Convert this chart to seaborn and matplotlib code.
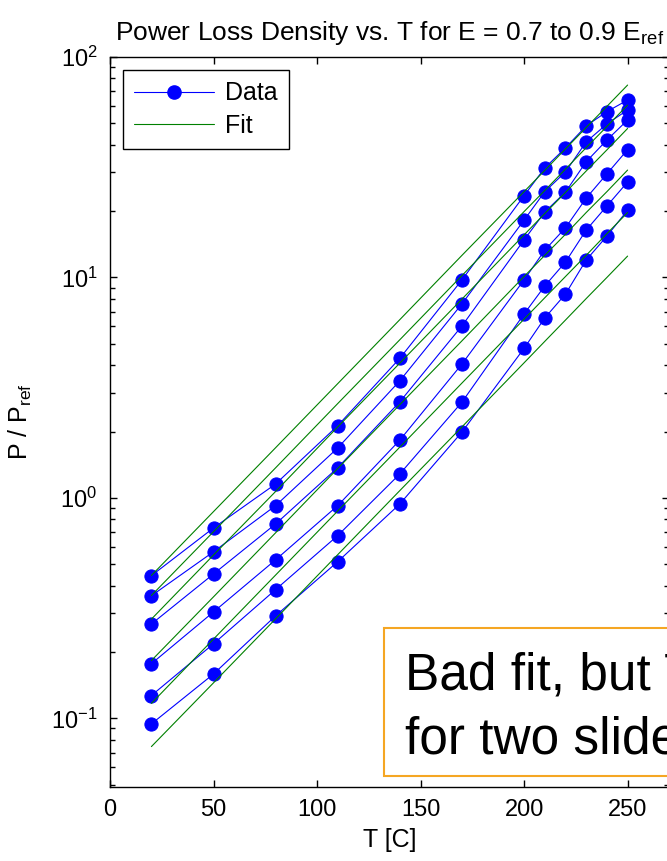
import pandas as pd
import seaborn as sns
import matplotlib.pyplot as plt
from matplotlib.lines import Line2D
from matplotlib.patches import Rectangle
from matplotlib.ticker import LogLocator, FixedLocator

# --- data ---
temps = [20, 50, 80, 110, 140, 170, 200, 210, 220, 230, 240, 250]

data_1 = [0.444, 0.731, 1.157, 2.128, 4.30, 9.75, 23.5, 31.4, 38.7, 48.7, 56.5, 63.8]
data_2 = [0.360, 0.570, 0.923, 1.686, 3.40, 7.59, 18.2, 24.5, 30.1, 41.2, 49.7, 57.5]
data_3 = [0.268, 0.452, 0.762, 1.372, 2.73, 6.03, 14.8, 19.8, 24.4, 33.5, 42.0, 51.8]
data_4 = [0.177, 0.304, 0.524, 0.923, 1.83, 4.05, 9.75, 13.3, 16.8, 22.9, 29.5, 38.0]
data_5 = [0.127, 0.218, 0.384, 0.675, 1.285, 2.72, 6.83, 9.15, 11.75, 16.4, 21.1, 27.1]
data_6 = [0.0944, 0.159, 0.292, 0.514, 0.939, 1.99, 4.77, 6.55, 8.41, 12.0, 15.4, 20.2]

fit_1 = [0.445, 0.867, 1.69, 3.30, 6.44, 12.6, 24.5, 30.6, 38.3, 47.9, 59.7, 74.6]
fit_2 = [0.361, 0.703, 1.37, 2.68, 5.22, 10.2, 19.9, 24.8, 31.0, 38.8, 48.4, 60.5]
fit_3 = [0.282, 0.551, 1.07, 2.10, 4.09, 7.98, 15.6, 19.5, 24.3, 30.4, 37.9, 47.4]
fit_4 = [0.183, 0.356, 0.695, 1.36, 2.65, 5.16, 10.1, 12.6, 15.7, 19.7, 24.5, 30.7]
fit_5 = [0.117, 0.229, 0.447, 0.873, 1.70, 3.32, 6.47, 8.09, 10.1, 12.6, 15.8, 19.7]
fit_6 = [0.0745, 0.145, 0.283, 0.553, 1.08, 2.10, 4.10, 5.13, 6.41, 8.02, 10.0, 12.5]

data_series = [data_1, data_2, data_3, data_4, data_5, data_6]
fit_series = [fit_1, fit_2, fit_3, fit_4, fit_5, fit_6]

x_ticks = [0, 50, 100, 150, 200, 250]

# long-form tables for seaborn
df_data = pd.DataFrame(
    [(i, t, p) for i, s in enumerate(data_series) for t, p in zip(temps, s)],
    columns=["series", "T", "P"],
)
df_fit = pd.DataFrame(
    [(i, t, p) for i, s in enumerate(fit_series) for t, p in zip(temps, s)],
    columns=["series", "T", "P"],
)

sns.set_theme(style="ticks")
plt.rcParams["font.family"] = ["Liberation Sans", "DejaVu Sans"]
plt.rcParams["mathtext.fontset"] = "custom"
plt.rcParams["mathtext.rm"] = "Liberation Sans"
plt.rcParams["mathtext.default"] = "regular"
plt.rcParams["axes.unicode_minus"] = False
for key in ["text.color", "axes.labelcolor", "xtick.color", "ytick.color",
            "xtick.labelcolor", "ytick.labelcolor"]:
    plt.rcParams[key] = "black"

BLUE = "#0000FF"
GREEN = "#008000"

fig = plt.figure(figsize=(6.67, 8.61), dpi=100)
ax = fig.add_axes([110 / 667, (861 - 786.7) / 861, 559 / 667, (786.7 - 57) / 861])

sns.lineplot(
    data=df_data, x="T", y="P", units="series", estimator=None,
    color=BLUE, linewidth=0.8, marker="o", markersize=9.5,
    markeredgecolor=BLUE, ax=ax, legend=False,
)
sns.lineplot(
    data=df_fit, x="T", y="P", units="series", estimator=None,
    color=GREEN, linewidth=0.8, ax=ax, legend=False,
)

ax.set_yscale("log")
ax.set_xlim(0, 270)
ax.set_ylim(0.049, 100)
ax.xaxis.set_major_locator(FixedLocator(x_ticks))
ax.yaxis.set_major_locator(LogLocator(base=10))
ax.yaxis.set_minor_locator(LogLocator(base=10, subs=range(2, 10)))

ax.tick_params(which="both", direction="in", top=True, right=True, color="black")
ax.tick_params(which="major", length=5, width=1, labelsize=17, pad=9)
ax.tick_params(which="minor", length=3.5, width=1)
for sp in ax.spines.values():
    sp.set_color("black")
    sp.set_linewidth(1.0)

ax.set_xlabel("T [C]", fontsize=18, labelpad=5)
ax.set_ylabel("P / P$_{ref}$", fontsize=18, labelpad=12)
ax.set_title("Power Loss Density vs. T for E = 0.7 to 0.9 E$_{ref}$",
             fontsize=19, pad=12)

handles = [
    Line2D([], [], color=BLUE, linewidth=0.8, marker="o", markersize=9.5),
    Line2D([], [], color=GREEN, linewidth=0.8),
]
leg = ax.legend(
    handles, ["Data", "Fit"], loc="upper left",
    bbox_to_anchor=(0.023, 0.982), borderaxespad=0,
    fontsize=18, handlelength=3.2, handletextpad=0.45,
    fancybox=False, framealpha=1, edgecolor="black",
    borderpad=0.45, labelspacing=0.35,
)
leg.get_frame().set_linewidth(1.0)

# annotation box overlaid on the lower right (cut by the right edge, as in the reference)
fig.patches.append(Rectangle(
    (383.5 / 667, (861 - 776) / 861), 0.5, 148 / 861,
    transform=fig.transFigure, facecolor="white",
    edgecolor="#F5A623", linewidth=1.5, zorder=5,
))
fig.text(405 / 667, (861 - 690) / 861, "Bad fit, but T-fit OK",
         fontsize=37, va="baseline", ha="left", zorder=6)
fig.text(405 / 667, (861 - 753) / 861, "for two slides",
         fontsize=37, va="baseline", ha="left", zorder=6)

fig.savefig("out.png", dpi=100)
plt.close(fig)
